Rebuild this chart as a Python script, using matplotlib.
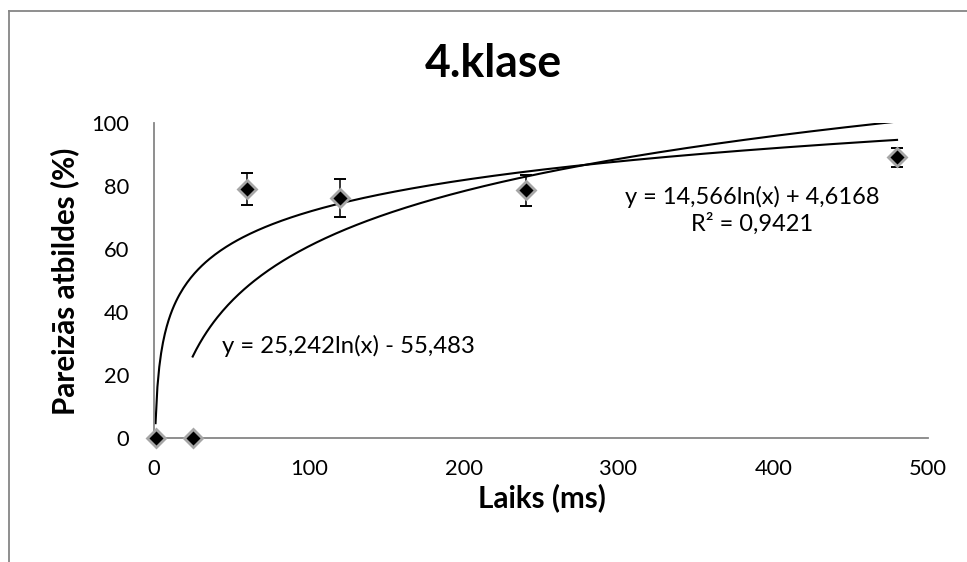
import numpy as np
import matplotlib
matplotlib.use('Agg')
from matplotlib import pyplot as plt
from matplotlib.lines import Line2D

## DATA

times = [1, 25, 60, 120, 240, 480]
correct = [0, 0, 79, 76, 78.5, 89]
errors = [0, 0, 5, 6, 4.8, 3]

# trendlines shown on the chart: y = a*ln(x) + b, drawn between x_start and x_end
trend_a = [14.566, 25.242]
trend_b = [4.6168, -55.483]
trend_start = [1, 25]
trend_end = [480, 480]
trend_labels = ['y = 14,566ln(x) + 4,6168\nR² = 0,9421', 'y = 25,242ln(x) - 55,483']

xticks = [0, 100, 200, 300, 400, 500]
yticks = [0, 20, 40, 60, 80, 100]

## HELPERS

W, H = 967, 562

def fx(px):
    return px / W

def fy(py):
    return 1 - py / H

def fit(txt, target, vertical=False):
    # scale the font so the drawn text spans target pixels
    r = fig.canvas.get_renderer()
    for _ in range(3):
        bb = txt.get_window_extent(r)
        size = bb.height if vertical else bb.width
        txt.set_fontsize(txt.get_fontsize() * target / size)
    return txt.get_fontsize()

## PLOT

plt.rcParams['font.family'] = ['Lato', 'DejaVu Sans']
grey = '#868686'

fig = plt.figure(figsize=(W / 100, H / 100), dpi=100)
ax = fig.add_axes([fx(154), fy(437.7), fx(928) - fx(154), fy(122.7) - fy(437.7)])

for a, b, x0, x1 in zip(trend_a, trend_b, trend_start, trend_end):
    xs = np.linspace(x0, x1, 400)
    ax.plot(xs, a * np.log(xs) + b, color='black', lw=1.5, zorder=2)

ax.errorbar(times, correct, yerr=errors, fmt='none', ecolor='black', elinewidth=1.1,
            capsize=4.3, capthick=1.4, zorder=3, clip_on=False)
ax.plot(times, correct, linestyle='none', marker='D', markersize=9, markerfacecolor='black',
        markeredgecolor='#a6a6a6', markeredgewidth=2, zorder=4, clip_on=False)

ax.set_xlim(0, 500)
ax.set_ylim(0, 100)
ax.set_xticks(xticks)
ax.set_yticks(yticks)
for s in ['top', 'right']:
    ax.spines[s].set_visible(False)
for s in ['left', 'bottom']:
    ax.spines[s].set_color(grey)
    ax.spines[s].set_linewidth(1.3)

# tick label size from the width of "500" (38 px in the reference)
probe = fig.text(0.5, 0.5, '500', fontsize=14)
tick_size = fit(probe, 38)
probe.remove()
ax.tick_params(axis='x', length=0, labelsize=tick_size, pad=15)
ax.tick_params(axis='y', length=0, labelsize=tick_size, pad=18)

title = fig.text(fx(493.5), fy(77), '4.klase', fontsize=26, fontweight='bold',
                 ha='center', va='baseline')
fit(title, 137)

xlab = fig.text(fx(542), fy(507), 'Laiks (ms)', fontsize=15, fontweight='bold',
                ha='center', va='baseline')
fit(xlab, 128)

ylab = fig.text(fx(65), fy(281), 'Pareizās atbildes (%)', fontsize=15, fontweight='bold',
                ha='center', va='center', rotation=90)
fit(ylab, 268, vertical=True)

t1 = fig.text(fx(752.5), fy(210), trend_labels[0], fontsize=15, ha='center', va='center',
              multialignment='center', linespacing=1.25)
fit(t1, 255)

t2 = fig.text(fx(222), fy(353), trend_labels[1], fontsize=15, ha='left', va='baseline')
fit(t2, 253)

# chart area border
fig.add_artist(Line2D([fx(9), fx(9)], [0, fy(10.5)], color=grey, lw=1.3))
fig.add_artist(Line2D([fx(9), 1], [fy(10.5), fy(10.5)], color=grey, lw=1.3))

fig.savefig('out.png', dpi=100)
